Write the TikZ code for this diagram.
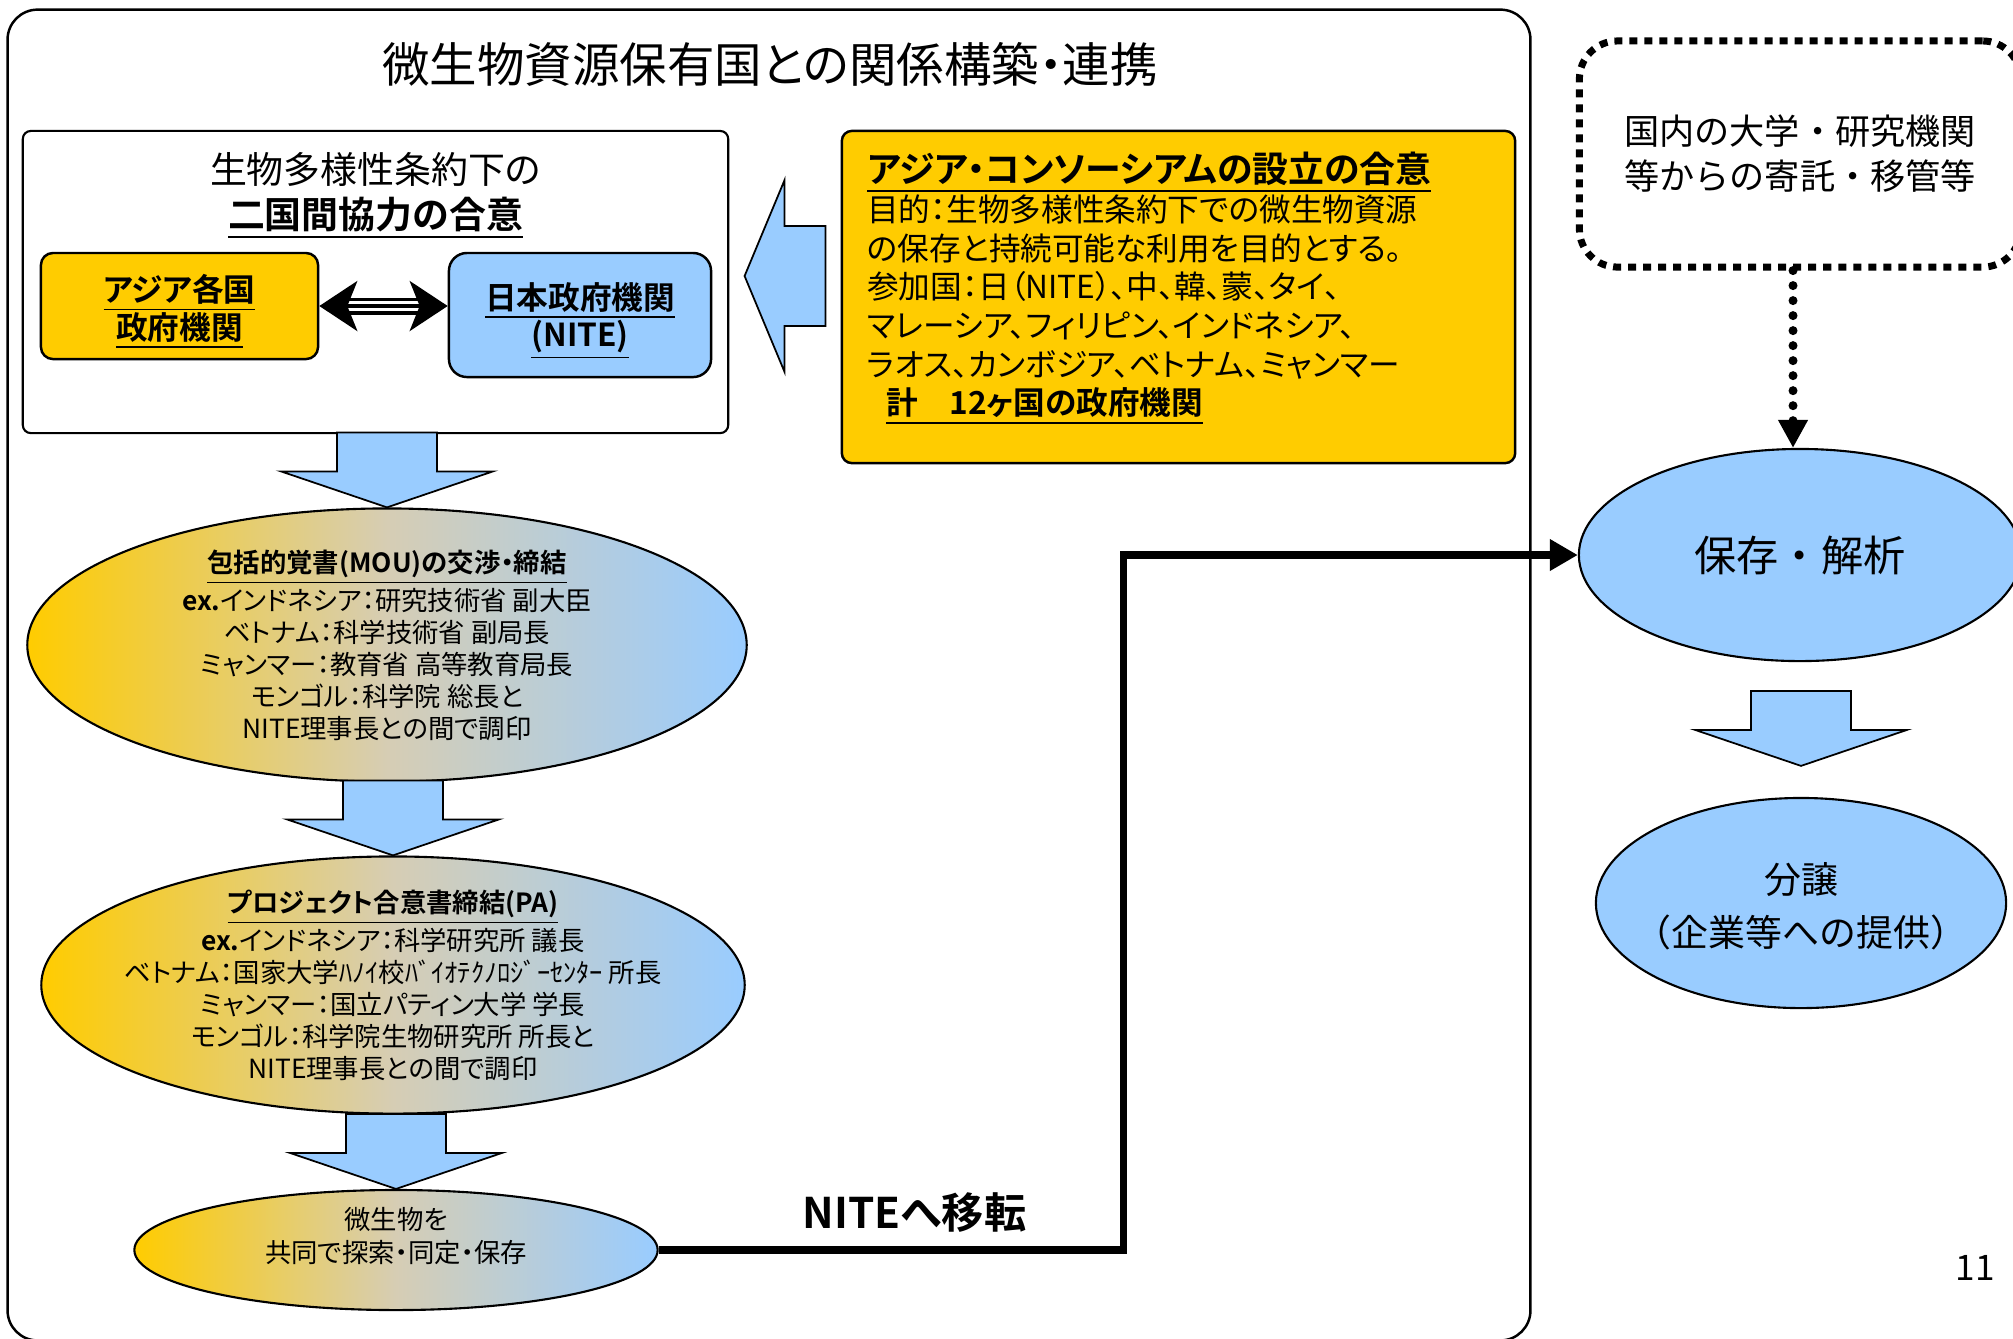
\documentclass[tikz,border=0pt]{standalone}
\usepackage{fontspec}
\setmainfont{Noto Sans CJK JP}[RawFeature=+palt,BoldFont={Noto Sans CJK JP Bold}]
\newfontfamily\gothfont{Noto Sans CJK JP}[BoldFont={Noto Sans CJK JP Bold}]
\usetikzlibrary{positioning,shapes.geometric,arrows.meta}
\definecolor{nyellow}{HTML}{FFCC00}
\definecolor{nblue}{HTML}{99CCFF}
\definecolor{nmid}{HTML}{D6CDB4}
\pgfdeclarehorizontalshading{ybshade}{100bp}{color(0bp)=(nyellow); color(25bp)=(nyellow); color(50bp)=(nmid); color(75bp)=(nblue); color(100bp)=(nblue)}

\begin{document}
\begin{tikzpicture}[x=0.01cm,y=-0.01cm,every node/.style={inner sep=0pt},
	frame/.style={draw,line width=0.7pt,rounded corners=0.3cm},
	plainbox/.style={draw,line width=0.6pt,rounded corners=0.08cm},
	ybox/.style={draw,fill=nyellow,line width=0.7pt,rounded corners=0.12cm},
	bbox/.style={draw,fill=nblue,line width=0.7pt,rounded corners=0.18cm},
	ell/.style={ellipse,draw,line width=0.6pt,shade,shading=ybshade},
	bell/.style={ellipse,draw,line width=0.6pt,fill=nblue},
	etxt/.style={align=center,font=\fontsize{7.5}{9.1}\selectfont},
	btxt/.style={align=center,yshift=-0.06cm,font=\fontsize{9}{10.6}\selectfont\bfseries},
	bluearr/.style={draw,fill=nblue,line width=0.5pt},
	downarr/.pic={\draw[bluearr] (0,0) -- (-106,-36) -- (-50,-36) -- (-50,-75) -- (50,-75) -- (50,-36) -- (106,-36) -- cycle;},
	dblshaft/.style={line width=0.035cm,double,double distance=0.1cm,shorten <=0.3cm,shorten >=0.3cm},
	dblhead/.style={line width=0.035cm,{Stealth[length=0.38cm,width=0.5cm,inset=0.1cm]}-{Stealth[length=0.38cm,width=0.5cm,inset=0.1cm]}},
	movearr/.style={line width=0.075cm,-{Triangle[length=0.28cm,width=0.3cm]}},
	dotbox/.style={draw,line width=0.07cm,dash pattern=on 0.08cm off 0.07cm,rounded corners=0.38cm},
	dotarr/.style={line width=0.09cm,dash pattern=on 0pt off 0.15cm,line cap=round,-{Triangle[length=0.28cm,width=0.28cm]}}]
\useasboundingbox (0,0) rectangle (2013,1338);
\node[frame,minimum width=15.22cm,minimum height=13.3cm] (frame) at (769,675) {};
\node[font=\fontsize{13.5}{16}\selectfont] (title) at (770,64) {微生物資源保有国との関係構築・連携};
\node[plainbox,minimum width=7.05cm,minimum height=3.02cm] (bilat) at (375.5,282) {};
\node[below=0.22cm of bilat.north,align=center,font=\fontsize{10.5}{12.8}\selectfont] (bilat-t) {生物多様性条約下の\\\textbf{\underline{二国間協力の合意}}};
\node[ybox,minimum width=2.77cm,minimum height=1.06cm] (asia) at (179.5,306) {};
\node[btxt] (asia-t) at (asia) {\underline{アジア各国}\\\underline{政府機関}};
\node[bbox,minimum width=2.62cm,minimum height=1.24cm] (nite) at (580,315) {};
\node[btxt] (nite-t) at (nite) {\underline{日本政府機関}\\\underline{(NITE)}};
\draw[dblshaft] (asia.east) -- (asia.east -| nite.west);
\draw[dblhead] (asia.east) -- (asia.east -| nite.west);
\node[ybox,rounded corners=0.1cm,minimum width=6.73cm,minimum height=3.32cm] (consort) at (1178.5,297) {};
\node[below right=0.22cm and 0.26cm of consort.north west,align=left,font=\fontsize{9}{11}\selectfont] (consort-t) {{\fontsize{10.2}{11}\selectfont\bfseries\underline{アジア・コンソーシアムの設立の合意}}\\
目的：生物多様性条約下での微生物資源\\
の保存と持続可能な利用を目的とする。\\
参加国：日（NITE）、中、韓、蒙、タイ、\\
マレーシア、フィリピン、インドネシア、\\
ラオス、カンボジア、ベトナム、ミャンマー\\
\hspace*{0.6em}\textbf{\underline{計　12ヶ国の政府機関}}};
\draw[bluearr,shift={(consort.west)}] (-96,-21) -- (-56,-117) -- (-56,-71) -- (-15,-71) -- (-15,29) -- (-56,29) -- (-56,75) -- cycle;
\node[ell,minimum width=7.19cm,minimum height=2.73cm] (mou) at (387,645) {};
\node[etxt] (mou-t) at (mou) {\textbf{\underline{包括的覚書(MOU)の交渉・締結}}\\\textbf{ex.}インドネシア：研究技術省 副大臣\\ベトナム：科学技術省 副局長\\ミャンマー：教育省 高等教育局長\\モンゴル：科学院 総長と\\NITE理事長との間で調印};
\node[ell,minimum width=7.03cm,minimum height=2.57cm] (pa) at (393,985) {};
\node[etxt] (pa-t) at (pa) {\textbf{\underline{プロジェクト合意書締結(PA)}}\\\textbf{ex.}インドネシア：科学研究所 議長\\ベトナム：国家大学ﾊﾉｲ校ﾊﾞｲｵﾃｸﾉﾛｼﾞｰｾﾝﾀｰ 所長\\ミャンマー：国立パティン大学 学長\\モンゴル：科学院生物研究所 所長と\\NITE理事長との間で調印};
\node[ell,minimum width=5.23cm,minimum height=1.2cm] (find) at (396,1250) {};
\node[etxt,yshift=0.14cm] (find-t) at (find) {微生物を\\共同で探索・同定・保存};
\pic at (mou.north) {downarr};
\pic at (pa.north) {downarr};
\pic at (find.north) {downarr};
\node[dotbox,minimum width=4.41cm,minimum height=2.26cm,align=center,font=\gothfont\fontsize{10}{12.8}\selectfont] (donate) at (1800,154) {国内の大学・研究機関\\等からの寄託・移管等};
\node[bell,minimum width=4.42cm,minimum height=2.12cm,font=\gothfont\fontsize{12}{14}\selectfont] (hozon) at (1800,555) {保存・解析};
\node[bell,minimum width=4.1cm,minimum height=2.1cm] (bunjo) at (1801,903) {};
\node[align=center,yshift=-0.03cm,font=\gothfont\fontsize{10.5}{15}\selectfont] (bunjo-t) at (bunjo) {分譲\\（企業等への提供）};
\pic at ([yshift=0.31cm]bunjo.north) {downarr};
\draw[dotarr] ([xshift=-0.07cm]donate.south) -- ([xshift=-0.07cm]hozon.north);
\draw[movearr] (find.east) -- node[pos=0.55,above=0.14cm,font=\fontsize{12}{14}\selectfont\bfseries] (move) {NITEへ移転} ++(465,0) |- (hozon.west);
\node[font=\gothfont\fontsize{10}{12}\selectfont] (pageno) at (1975,1268) {11};
\end{tikzpicture}
\end{document}
